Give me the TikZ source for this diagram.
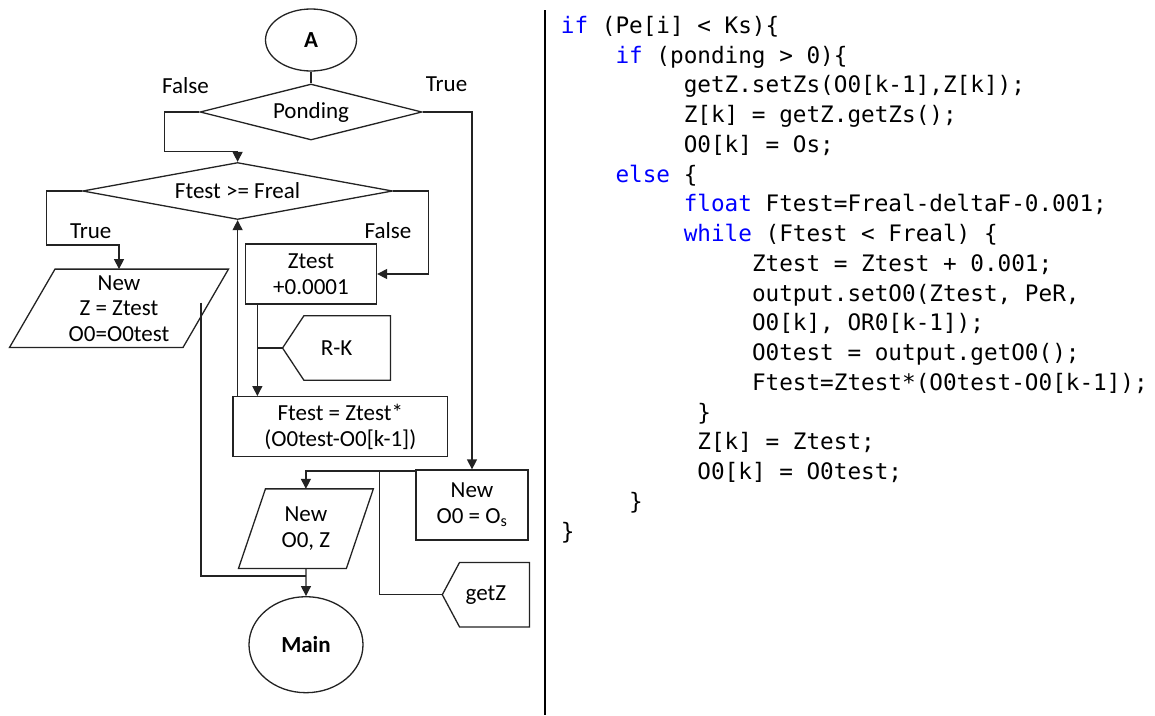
\documentclass[tikz,border=0pt]{standalone}
\usepackage{fontspec}
\setmainfont{Carlito}
\newfontfamily\codefont{DejaVu Sans Mono}
\usetikzlibrary{shapes.geometric,arrows.meta,calc}
\definecolor{kwblue}{RGB}{0,0,255}
\definecolor{ln}{RGB}{35,35,35}
\newcommand\kw[1]{\textcolor{kwblue}{#1}}
\newcommand\codeln[3]{\node[codeline] (code#2) at ({560.7+13.65*#1},{33.3+29.75*#2}) {#3};}
\tikzset{
  fcline/.style={draw=ln, line width=1.3pt},
  arr/.style={fcline, -{Triangle[length=10pt,width=10pt]}},
  fctext/.style={font=\fontsize{23}{25.5}\selectfont, text=black, align=center, inner sep=0pt},
  procbox/.style={fctext, fcline, rectangle},
  decision/.style={fctext, fcline, diamond},
  terminal/.style={fctext, fcline, ellipse},
  iobox/.style={fctext, rectangle},
  lbl/.style={fctext},
  codeline/.style={anchor=base west, inner sep=0pt, font=\codefont\fontsize{22.67}{29.75}\selectfont},
}
\begin{document}
\begin{tikzpicture}[x=1pt,y=-1pt]
\useasboundingbox (0,0) rectangle (1155,715);
\fill[white] (0,0) rectangle (1155,715);

% ---------- flowchart nodes ----------
\node[terminal, minimum width=91pt, minimum height=62pt] (A) at (311,40) {\bfseries A};
\node[decision, aspect=3.96, minimum width=222pt, minimum height=56pt] (pond) at (311,112) {Ponding};
\node[decision, aspect=5.44, minimum width=310pt, minimum height=57pt] (ftest) at (237.6,191) {Ftest >= Freal};
\node[procbox, minimum width=131pt, minimum height=60pt] (ztest) at (311,274) {Ztest\\+0.0001};
\node[iobox, minimum width=218.6pt, minimum height=78pt] (p1) at (119,308.3) {New\\Z = Ztest\\O0=O0test};
\draw[fcline] (p1.south west) -- ([xshift=45.5pt]p1.north west) -- (p1.north east) -- ([xshift=-45.5pt]p1.south east) -- cycle;
\node[iobox, minimum width=107.5pt, minimum height=64pt] (rk) at (336.5,348) {R-K};
\draw[fcline] (rk.west) -- ([xshift=21.3pt]rk.north west) -- (rk.north east) -- (rk.south east) -- ([xshift=21.3pt]rk.south west) -- cycle;
\node[procbox, minimum width=214.5pt, minimum height=60pt] (fbox) at (340.3,426.7) {Ftest = Ztest*\\(O0test-O0[k-1])};
\node[procbox, minimum width=112pt, minimum height=70pt] (news) at (472,505) {New\\O0 = O\textsubscript{s}};
\node[iobox, minimum width=134.5pt, minimum height=79.3pt] (p2) at (305.9,528.7) {New\\O0, Z};
\draw[fcline] (p2.south west) -- ([xshift=27pt]p2.north west) -- (p2.north east) -- ([xshift=-27pt]p2.south east) -- cycle;
\node[iobox, minimum width=86.8pt, minimum height=64pt] (getz) at (485.9,594.7) {getZ};
\draw[fcline] (getz.west) -- ([xshift=17.2pt]getz.north west) -- (getz.north east) -- (getz.south east) -- ([xshift=17.2pt]getz.south west) -- cycle;
\node[terminal, minimum width=114pt, minimum height=96pt] (main) at (306,644.7) {\bfseries Main};

% ---------- labels ----------
\node[lbl] (lf1) at (185.5,86) {False};
\node[lbl] (lt1) at (446.6,84.3) {True};
\node[lbl] (lt2) at (90.7,231) {True};
\node[lbl] (lf2) at (388,231) {False};

% ---------- connectors ----------
\draw[fcline] (A.south) -- (pond.north);
\coordinate (f1) at (164.5,151.7);
\draw[arr] (pond.west) -| (f1) -| (ftest.north);
\draw[arr] (pond.east) -| (news.north);
\coordinate (t1) at (46.6,245);
\draw[arr] (ftest.west) -| (t1) -| (p1.north);
\coordinate (fa1) at (428.6,240);
\draw[arr] (ftest.east) -| (fa1) |- (ztest.east);
\coordinate (zl) at ([xshift=12.5pt]ztest.south west);
\draw[arr] (zl) -- (zl |- fbox.north);
\draw[fcline] (zl |- rk.west) -- (rk.west);
\draw[arr] (ftest.south |- fbox.north) -- (ftest.south);
\coordinate (h1) at ([yshift=-1.7pt]news.north west);
\draw[arr] (h1) -| (p2.north);
\coordinate (g1) at ($(h1)+(-35.7,0)$);
\draw[fcline] (g1) |- (getz.west);
\draw[arr] (p2.south) -- (main.north);
\coordinate (s1) at (201,302.7);
\draw[fcline] (s1) |- ($(p2.south)!0.27!(main.north)$);

% ---------- divider ----------
\coordinate (d1) at (545,10);
\coordinate (d2) at (545,715);
\draw[line width=2.5pt, black] (d1) -- (d2);

% ---------- code ----------
\codeln{0}{0}{\kw{if} (Pe[i] < Ks)\{}
\codeln{4}{1}{\kw{if} (ponding > 0)\{}
\codeln{9}{2}{getZ.setZs(O0[k-1],Z[k]);}
\codeln{9}{3}{Z[k] = getZ.getZs();}
\codeln{9}{4}{O0[k] = Os;}
\codeln{4}{5}{\kw{else} \{}
\codeln{9}{6}{\kw{float} Ftest=Freal-deltaF-0.001;}
\codeln{9}{7}{\kw{while} (Ftest < Freal) \{}
\codeln{14}{8}{Ztest = Ztest + 0.001;}
\codeln{14}{9}{output.setO0(Ztest, PeR,}
\codeln{14}{10}{O0[k], OR0[k-1]);}
\codeln{14}{11}{O0test = output.getO0();}
\codeln{14}{12}{Ftest=Ztest*(O0test-O0[k-1]);}
\codeln{10}{13}{\}}
\codeln{10}{14}{Z[k] = Ztest;}
\codeln{10}{15}{O0[k] = O0test;}
\codeln{5}{16}{\}}
\codeln{0}{17}{\}}
\end{tikzpicture}
\end{document}
